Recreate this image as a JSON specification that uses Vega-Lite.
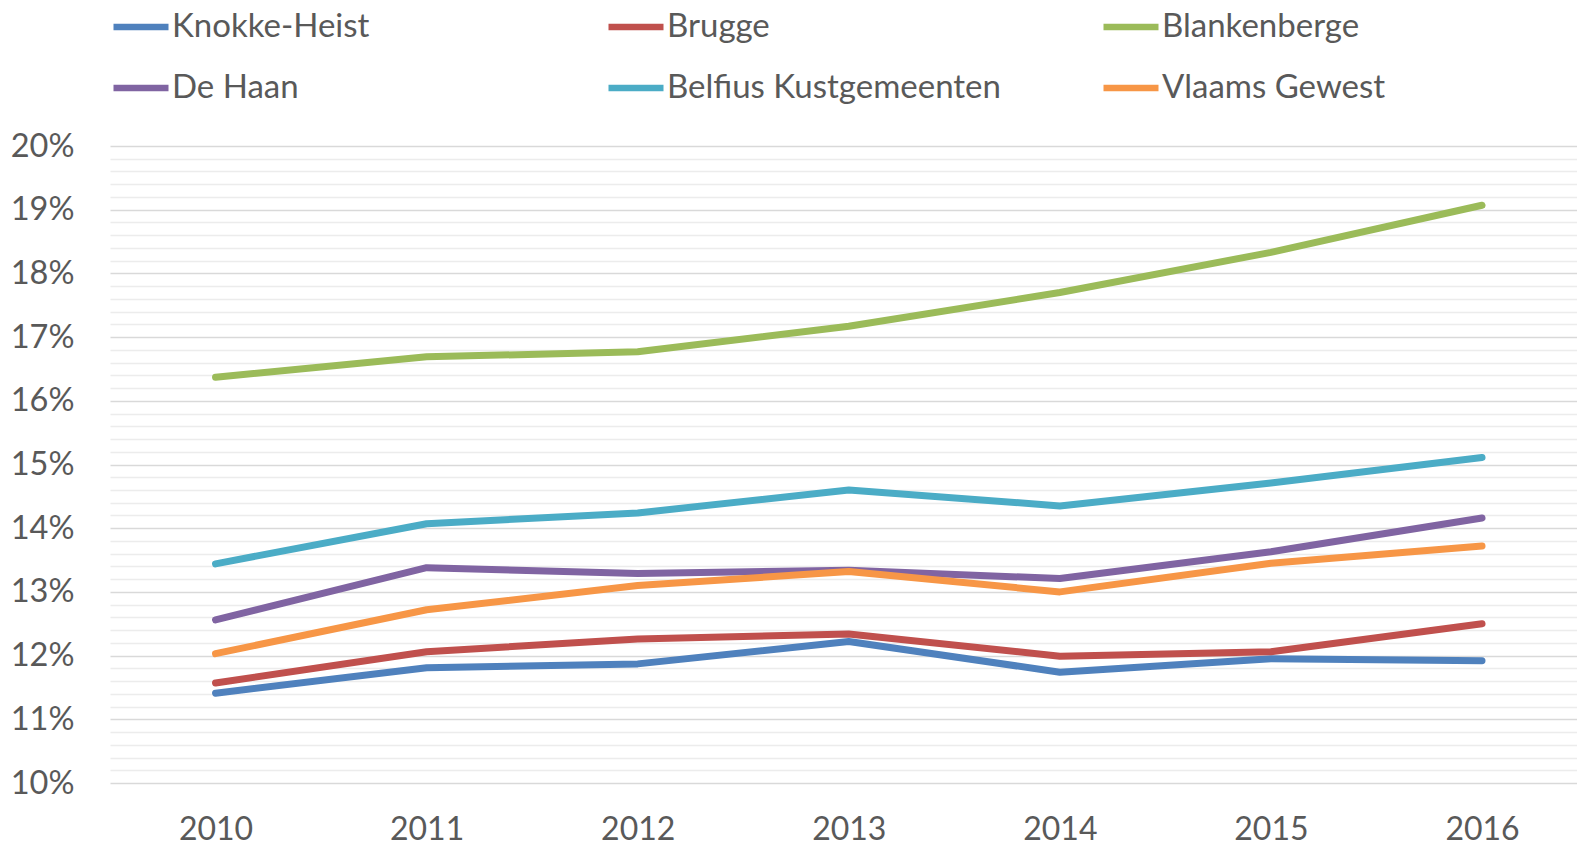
{
  "$schema": "https://vega.github.io/schema/vega-lite/v6.json",
  "autosize": {"type": "none"},
  "width": 1467,
  "height": 637,
  "padding": {"left": 110, "top": 146, "right": 0, "bottom": 64},
  "background": "white",
  "config": {
    "font": "Lato",
    "view": {"stroke": null},
    "axis": {"labelColor": "#595959", "labelFont": "Lato", "domain": false, "ticks": false, "tickSize": 0}
  },
  "data": {
    "values": [
      {"year": 2010, "series": "Knokke-Heist", "value": 0.1141},
      {"year": 2011, "series": "Knokke-Heist", "value": 0.1181},
      {"year": 2012, "series": "Knokke-Heist", "value": 0.1187},
      {"year": 2013, "series": "Knokke-Heist", "value": 0.1222},
      {"year": 2014, "series": "Knokke-Heist", "value": 0.1174},
      {"year": 2015, "series": "Knokke-Heist", "value": 0.1195},
      {"year": 2016, "series": "Knokke-Heist", "value": 0.1192},
      {"year": 2010, "series": "Brugge", "value": 0.1157},
      {"year": 2011, "series": "Brugge", "value": 0.1206},
      {"year": 2012, "series": "Brugge", "value": 0.1226},
      {"year": 2013, "series": "Brugge", "value": 0.1234},
      {"year": 2014, "series": "Brugge", "value": 0.1199},
      {"year": 2015, "series": "Brugge", "value": 0.1206},
      {"year": 2016, "series": "Brugge", "value": 0.1250},
      {"year": 2010, "series": "Blankenberge", "value": 0.1637},
      {"year": 2011, "series": "Blankenberge", "value": 0.1669},
      {"year": 2012, "series": "Blankenberge", "value": 0.1677},
      {"year": 2013, "series": "Blankenberge", "value": 0.1717},
      {"year": 2014, "series": "Blankenberge", "value": 0.1770},
      {"year": 2015, "series": "Blankenberge", "value": 0.1833},
      {"year": 2016, "series": "Blankenberge", "value": 0.1907},
      {"year": 2010, "series": "De Haan", "value": 0.1256},
      {"year": 2011, "series": "De Haan", "value": 0.1338},
      {"year": 2012, "series": "De Haan", "value": 0.1329},
      {"year": 2013, "series": "De Haan", "value": 0.1334},
      {"year": 2014, "series": "De Haan", "value": 0.1321},
      {"year": 2015, "series": "De Haan", "value": 0.1363},
      {"year": 2016, "series": "De Haan", "value": 0.1416},
      {"year": 2010, "series": "Belfius Kustgemeenten", "value": 0.1344},
      {"year": 2011, "series": "Belfius Kustgemeenten", "value": 0.1407},
      {"year": 2012, "series": "Belfius Kustgemeenten", "value": 0.1424},
      {"year": 2013, "series": "Belfius Kustgemeenten", "value": 0.1460},
      {"year": 2014, "series": "Belfius Kustgemeenten", "value": 0.1435},
      {"year": 2015, "series": "Belfius Kustgemeenten", "value": 0.1471},
      {"year": 2016, "series": "Belfius Kustgemeenten", "value": 0.1511},
      {"year": 2010, "series": "Vlaams Gewest", "value": 0.1203},
      {"year": 2011, "series": "Vlaams Gewest", "value": 0.1272},
      {"year": 2012, "series": "Vlaams Gewest", "value": 0.1310},
      {"year": 2013, "series": "Vlaams Gewest", "value": 0.1332},
      {"year": 2014, "series": "Vlaams Gewest", "value": 0.1300},
      {"year": 2015, "series": "Vlaams Gewest", "value": 0.1345},
      {"year": 2016, "series": "Vlaams Gewest", "value": 0.1372}
    ]
  },
  "mark": {"type": "line", "strokeWidth": 7, "strokeCap": "round", "strokeJoin": "round"},
  "encoding": {
    "x": {
      "field": "year",
      "type": "quantitative",
      "scale": {"domain": [2009.5, 2016.45], "nice": false, "zero": false},
      "axis": {
        "title": null,
        "grid": false,
        "values": [2010, 2011, 2012, 2013, 2014, 2015, 2016],
        "format": "d",
        "labelFontSize": 32,
        "labelPadding": 31,
        "labelOverlap": false,
        "labelFlush": false
      }
    },
    "y": {
      "field": "value",
      "type": "quantitative",
      "scale": {"domain": [0.10, 0.20], "nice": false, "zero": false},
      "axis": {
        "title": null,
        "grid": true,
        "values": [0.1, 0.102, 0.104, 0.106, 0.108, 0.11, 0.112, 0.114, 0.116, 0.118, 0.12, 0.122, 0.124, 0.126, 0.128, 0.13, 0.132, 0.134, 0.136, 0.138, 0.14, 0.142, 0.144, 0.146, 0.148, 0.15, 0.152, 0.154, 0.156, 0.158, 0.16, 0.162, 0.164, 0.166, 0.168, 0.17, 0.172, 0.174, 0.176, 0.178, 0.18, 0.182, 0.184, 0.186, 0.188, 0.19, 0.192, 0.194, 0.196, 0.198, 0.2],
        "labelExpr": "abs(datum.value*100 - round(datum.value*100)) < 0.01 ? format(datum.value, '.0%') : ''",
        "gridColor": {"condition": {"test": "abs(datum.value*100 - round(datum.value*100)) < 0.01", "value": "#D9D9D9"}, "value": "#ECECEC"},
        "gridWidth": 1.5,
        "labelFontSize": 32.5,
        "labelPadding": 36,
        "labelOverlap": false,
        "labelFlush": false
      }
    },
    "color": {
      "field": "series",
      "type": "nominal",
      "scale": {
        "domain": ["Knokke-Heist", "Brugge", "Blankenberge", "De Haan", "Belfius Kustgemeenten", "Vlaams Gewest"],
        "range": ["#4F81BD", "#C0504D", "#9BBB59", "#8064A2", "#4BACC6", "#F79646"]
      },
      "legend": {
        "title": null,
        "orient": "none",
        "legendX": 0,
        "legendY": -150,
        "direction": "horizontal",
        "columns": 3,
        "gridAlign": "all",
        "columnPadding": 89,
        "rowPadding": 13,
        "padding": 0,
        "symbolType": "stroke",
        "symbolSize": 3025,
        "symbolStrokeWidth": 6.5,
        "labelFontSize": 33,
        "labelColor": "#595959",
        "labelFont": "Lato",
        "labelOffset": 0,
        "labelLimit": 600
      }
    }
  }
}
